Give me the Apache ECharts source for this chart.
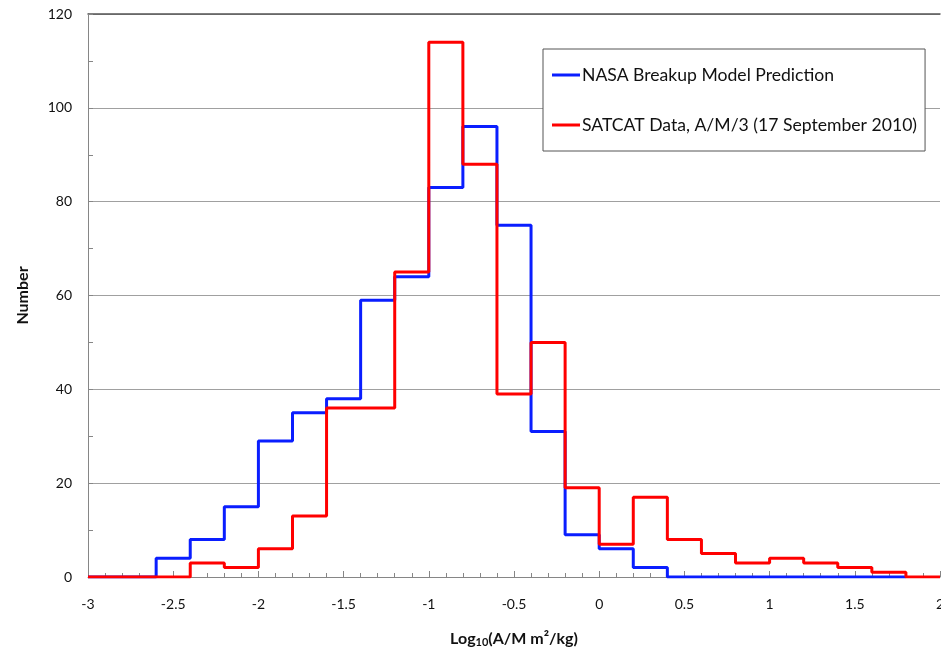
<!DOCTYPE html>
<html>
<head>
<meta charset="utf-8">
<script src="https://cdn.jsdelivr.net/npm/echarts@6/dist/echarts.min.js"></script>
<style>html,body{margin:0;padding:0;background:#fff}#c{width:941px;height:649px}</style>
</head>
<body>
<div id="c"></div>
<script>
// Bin left edges (log10 A/M), bin width 0.2
const binEdges = [-3.0,-2.8,-2.6,-2.4,-2.2,-2.0,-1.8,-1.6,-1.4,-1.2,-1.0,-0.8,-0.6,-0.4,-0.2,0.0,0.2,0.4,0.6,0.8,1.0,1.2,1.4,1.6,1.8,2.0];
const nasaValues   = [0,0,4,8,15,29,35,38,59,64,83,96,75,31,9,6,2,0,0,0,0,0,0,0,0];
const satcatValues = [0,0,0,3,2,6,13,36,36,65,114,88,39,50,19,7,17,8,5,3,4,3,2,1,0];
const xTicks = [-3,-2.5,-2,-1.5,-1,-0.5,0,0.5,1,1.5,2];
const yTicks = [0,20,40,60,80,100,120];
const seriesNames = ['NASA Breakup Model Prediction','SATCAT Data, A/M/3 (17 September 2010)'];

function stepData(vals, lastEdgeIdx) {
  const d = [];
  for (let i = 0; i < vals.length && i < lastEdgeIdx; i++) d.push([binEdges[i], vals[i]]);
  d.push([binEdges[lastEdgeIdx], vals[lastEdgeIdx - 1]]);
  return d;
}

const font = 'Lato, "Open Sans", sans-serif';
const chart = echarts.init(document.getElementById('c'));
chart.setOption({
  animation: false,
  textStyle: {fontFamily: font},
  grid: {left: 88, right: 1, top: 14, bottom: 72, containLabel: false, outerBoundsMode: 'none'},
  legend: {
    orient: 'vertical', left: 543, top: 49,
    padding: [17, 8, 17, 9], itemGap: 32,
    backgroundColor: '#fff', borderColor: '#555', borderWidth: 1,
    itemWidth: 28, itemHeight: 3, icon: 'rect',
    textStyle: {fontFamily: font, fontSize: 17.6, color: '#111', padding: [0,0,0,-3]},
    data: seriesNames
  },
  xAxis: [{
    type: 'value', min: -3, max: 2, interval: 0.5,
    name: '{b|Log}{s|10}{b|(A/M m²/kg)}', nameLocation: 'middle', nameGap: 52,
    nameTextStyle: {rich: {
      b: {fontFamily: font, fontSize: 16, fontWeight: 'bold', color: '#111'},
      s: {fontFamily: font, fontSize: 11, fontWeight: 'bold', color: '#111', verticalAlign: 'bottom', padding: [8,0,0,0]}
    }},
    axisLine: {onZero: false, lineStyle: {color: '#868686', width: 1}},
    axisTick: {show: true, inside: true, length: 6, lineStyle: {color: '#868686'}},
    minorTick: {show: true, splitNumber: 5, length: 4, lineStyle: {color: '#868686'}},
    splitLine: {show: false},
    axisLabel: {fontFamily: font, fontSize: 14, color: '#111', margin: 20,
      formatter: v => xTicks.includes(+v.toFixed(1)) ? String(+v.toFixed(1)) : ''}
  }, {
    type: 'value', min: -3, max: 2, interval: 0.5, position: 'top',
    axisLine: {show: true, onZero: false, lineStyle: {color: '#555', width: 1.5}},
    axisTick: {show: false}, axisLabel: {show: false}, splitLine: {show: false}
  }],
  yAxis: {
    type: 'value', min: 0, max: 120, interval: 20,
    name: 'Number', nameLocation: 'middle', nameGap: 57,
    nameTextStyle: {fontFamily: font, fontSize: 16, fontWeight: 'bold', color: '#111'},
    axisLine: {show: true, onZero: false, lineStyle: {color: '#868686', width: 1}},
    axisTick: {show: true, inside: true, length: 5, lineStyle: {color: '#868686'}},
    minorTick: {show: true, splitNumber: 2, length: 5, lineStyle: {color: '#868686'}},
    splitLine: {show: true, lineStyle: {color: '#a0a0a0', width: 1}},
    axisLabel: {fontFamily: font, fontSize: 14, color: '#111', margin: 16,
      formatter: v => yTicks.includes(v) ? String(v) : ''}
  },
  series: [
    {name: seriesNames[0], type: 'line', step: 'end', showSymbol: false, symbol: 'none',
     lineStyle: {color: '#0a1eff', width: 3}, itemStyle: {color: '#0a1eff'},
     data: stepData(nasaValues, 24), z: 2},
    {name: seriesNames[1], type: 'line', step: 'end', showSymbol: false, symbol: 'none',
     lineStyle: {color: '#ff0000', width: 3}, itemStyle: {color: '#ff0000'},
     data: stepData(satcatValues, 25), z: 3}
  ]
});
</script>
</body>
</html>
